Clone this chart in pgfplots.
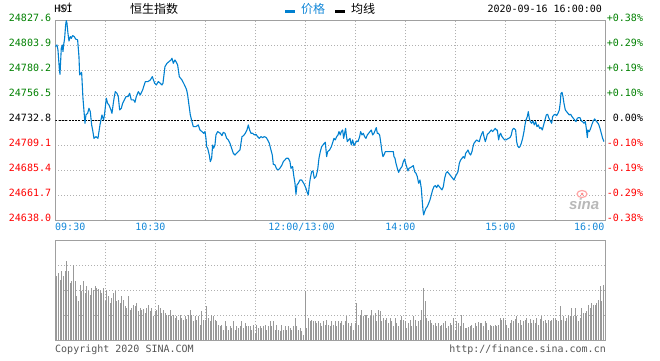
\documentclass[border=0pt]{standalone}
\usepackage{fontspec}
\setmonofont{DejaVu Sans Mono}
\setsansfont{Liberation Sans}
\newfontfamily\cjk{Noto Sans CJK SC}
\usepackage{pgfplots}
\pgfplotsset{compat=1.18}
\definecolor{lineblue}{RGB}{0,128,208}
\definecolor{labelblue}{RGB}{20,136,216}
\definecolor{upgreen}{RGB}{0,128,0}
\definecolor{downred}{RGB}{255,0,0}
\definecolor{bordergray}{RGB}{160,160,160}
\definecolor{gridgray}{RGB}{176,176,176}
\definecolor{volgray}{RGB}{153,153,153}
\definecolor{copygray}{RGB}{85,85,85}
\newcommand{\mf}{\ttfamily\fontsize{10bp}{12bp}\selectfont}
\begin{document}
\begin{tikzpicture}[x=1bp,y=1bp]
\path[use as bounding box] (0,0) rectangle (660,360);
\pgfplotsset{chartbase/.style={scale only axis, width=550bp, anchor=south west,
  xmin=0, xmax=330, xtick={0,30,...,330}, xticklabels={},
  grid=major, major grid style={draw=gridgray, line width=1bp, dash pattern=on 1bp off 2bp},
  axis line style={draw=bordergray, line width=1bp}, major tick length=0pt, tick style={draw=none}}}
% ---------- price panel ----------
\begin{axis}[chartbase, at={(55.3bp,139.7bp)}, height=200bp,
  ymin=24638.0, ymax=24827.6,
  ytick={24638.0,24661.7,24685.4,24709.1,24732.8,24756.5,24780.2,24803.9,24827.6},
  yticklabels={\textcolor{downred}{24638.0},\textcolor{downred}{24661.7},\textcolor{downred}{24685.4},\textcolor{downred}{24709.1},\textcolor{black}{24732.8},\textcolor{upgreen}{24756.5},\textcolor{upgreen}{24780.2},\textcolor{upgreen}{24803.9},\textcolor{upgreen}{24827.6}},
  yticklabel style={font=\mf, inner sep=0pt, anchor=east, xshift=-4bp, yshift=2.8bp}]
\addplot[black, line width=1bp, dash pattern=on 2bp off 1.3bp] coordinates {(0,24732.8)(330,24732.8)};
\addplot[lineblue, line width=1.1bp, line join=round] coordinates {
(0,24802.6)(1,24804.2)(1.6,24799.5)(2.4,24782.1)(2.8,24776.4)(3.6,24801.1)(4.2,24804.2)(4.6,24797.9)(5,24804.2)(5.6,24810.5)
(6.2,24823.2)(6.6,24827.3)(7,24824.8)(7.6,24815.3)(8.2,24808.0)(9,24812.1)(9.6,24810.5)(10.4,24813.1)(11.4,24812.1)(12.2,24809.9)
(13.4,24809.0)(14.2,24793.2)(14.6,24775.8)(15.8,24778.3)(16.6,24753.7)(17.4,24737.9)(17.8,24730.0)(18.4,24737.9)(19.4,24739.4)(20.2,24744.2)
(21,24741.0)(21.8,24728.4)(22.4,24723.6)(23.2,24715.7)(24.4,24717.3)(25.6,24715.7)(26.2,24722.1)(26.8,24728.4)(28,24737.9)(29,24733.1)
(29.6,24739.4)(30.6,24753.7)(31.4,24748.9)(32.2,24747.3)(33.4,24742.6)(34,24739.4)(34.8,24748.9)(35.4,24755.2)(36,24760.0)(37,24758.4)
(37.8,24755.2)(38.6,24742.6)(39.6,24744.2)(40.4,24748.9)(41.4,24752.1)(42.4,24755.2)(43.6,24755.2)(44.6,24758.4)(45.6,24752.1)(47,24752.1)
(47.8,24749.9)(48.6,24755.2)(49.8,24760.0)(51,24756.8)(52.4,24761.6)(54,24769.5)(55.6,24769.5)(57,24771.0)(58.2,24774.2)(59.6,24767.9)
(60.6,24766.3)(61.8,24769.5)(63,24767.9)(64,24766.3)(64.6,24767.9)(65.2,24775.8)(65.8,24783.7)(67,24786.8)(68.2,24788.4)(69.4,24790.0)
(70,24791.6)(70.8,24786.8)(71.8,24790.0)(72.4,24788.4)(73.4,24785.3)(74.4,24774.2)(76,24771.0)(77,24767.9)(78,24764.7)(78.8,24761.6)
(79.4,24756.8)(80.2,24747.3)(81,24737.9)(82,24731.5)(82.8,24726.8)(84.4,24726.8)(85.8,24728.4)(86.8,24723.6)(88,24722.1)(89,24720.5)
(89.8,24722.1)(90.4,24715.7)(90.8,24707.8)(91.4,24706.3)(92.4,24699.9)(93,24693.6)(93.8,24696.8)(94.4,24709.4)(95,24706.3)(95.8,24709.4)
(96.4,24718.9)(97.4,24722.1)(99,24720.5)(100,24718.3)(100.8,24721.4)(101.8,24720.5)(102.8,24715.7)(103.8,24714.2)(104.8,24711.0)(105.8,24706.3)
(106.8,24701.5)(107.8,24699.9)(108.8,24701.5)(109.8,24703.1)(110.8,24704.7)(111.4,24711.0)(112,24717.3)(113,24718.3)(114,24720.5)(115,24723.6)
(115.8,24728.4)(116.6,24723.6)(117.4,24720.5)(118.4,24720.5)(119.4,24718.9)(120.4,24719.5)(121.4,24717.3)(122.4,24715.7)(123.4,24717.3)(124.4,24716.4)
(125.4,24717.3)(126.6,24716.4)(127.4,24714.2)(128.4,24711.0)(129.4,24704.7)(130.2,24699.9)(130.8,24691.1)(131.8,24690.5)(132.8,24686.7)(133.8,24685.7)
(135,24687.9)(136,24690.5)(136.8,24693.6)(137.8,24695.2)(138.6,24696.8)(139.8,24696.8)(140.8,24693.6)(141.4,24687.3)(142.4,24688.9)(143,24681.0)
(143.8,24673.1)(144.4,24662.7)(145,24671.5)(145.8,24673.1)(146.8,24676.2)(147.8,24676.2)(148.4,24674.7)(149.4,24672.1)(150.4,24668.3)(151,24665.2)
(151.8,24662.0)(152.4,24671.5)(153,24677.8)(153.8,24684.1)(154.6,24684.8)(155.4,24677.8)(156.4,24679.4)(157.4,24685.7)(158.2,24696.8)(159,24703.1)
(159.8,24707.8)(160.6,24709.4)(161.4,24711.0)(162,24712.0)(162.8,24698.4)(163.4,24703.1)(164.6,24704.7)(165.6,24707.8)(166.6,24712.6)(167.2,24715.7)
(168,24714.2)(168.8,24717.3)(169.6,24718.9)(170.2,24722.1)(171,24718.9)(171.6,24722.1)(172.4,24723.6)(173,24715.7)(173.6,24720.5)(174.2,24725.2)
(174.6,24718.9)(175.2,24712.6)(176,24714.2)(176.8,24715.7)(177.6,24709.4)(178.4,24714.2)(179.2,24708.8)(180,24711.0)(180.8,24713.2)(181.6,24712.6)
(182.6,24717.3)(183.2,24722.1)(184,24718.9)(184.8,24720.5)(185.6,24717.3)(186.4,24715.7)(187.2,24718.9)(188,24720.5)(188.8,24722.1)(189.6,24723.6)
(190.4,24718.9)(191.2,24720.5)(192,24723.6)(192.6,24725.9)(193.2,24720.5)(193.8,24720.5)(194.6,24718.9)(195.2,24712.6)(196,24703.1)(196.6,24698.4)
(197.2,24699.9)(198,24703.1)(202.8,24703.1)(203.2,24698.4)(203.8,24696.8)(204.4,24692.0)(205.2,24687.3)(206,24683.5)(206.6,24685.7)(207.2,24687.3)
(208,24688.9)(208.8,24693.6)(209.6,24696.1)(210.2,24692.0)(210.8,24688.9)(211.6,24684.8)(212.2,24687.3)(213,24687.9)(214,24688.9)(214.8,24689.8)
(215.6,24684.1)(216.4,24682.6)(217.2,24679.4)(218,24673.1)(218.8,24676.2)(219.6,24668.3)(220.2,24655.7)(220.6,24647.8)(221,24643.1)(221.6,24646.2)
(222.4,24649.4)(223.2,24651.0)(224,24654.1)(224.8,24657.3)(225.6,24662.0)(226.4,24666.8)(227.2,24669.9)(228,24670.9)(228.8,24669.0)(229.6,24671.5)
(230.4,24669.9)(231.2,24668.3)(232,24666.8)(232.8,24669.9)(233.6,24677.8)(234.4,24682.6)(235.2,24684.1)(236,24682.6)(236.8,24681.0)(237.6,24679.4)
(238.4,24677.8)(239.2,24676.2)(240,24679.4)(240.8,24681.6)(241.6,24684.1)(242.4,24692.0)(243.2,24695.2)(244,24696.8)(244.8,24698.4)(245.6,24696.8)
(246.2,24701.5)(247,24703.1)(247.6,24704.7)(248.4,24701.5)(249.2,24699.9)(250,24703.1)(250.6,24707.8)(251.2,24711.0)(252,24712.6)(252.8,24714.2)
(253.6,24713.2)(254.4,24712.6)(255.2,24717.3)(256,24720.5)(256.6,24722.1)(257.2,24717.3)(258,24712.6)(258.6,24715.7)(259.2,24719.5)(260,24720.5)
(260.8,24722.1)(261.6,24723.6)(262.4,24722.1)(263.2,24723.6)(264,24725.2)(264.6,24723.6)(265.2,24723.6)(266,24714.2)(266.6,24718.9)(267.2,24720.5)
(268,24717.3)(268.8,24715.7)(269.6,24714.2)(270.4,24714.2)(271.2,24715.1)(272,24715.7)(272.8,24716.4)(273.6,24718.9)(274.2,24723.6)(275,24725.2)
(275.6,24724.6)(276.2,24723.6)(276.8,24712.6)(277.4,24708.5)(278.2,24706.9)(278.8,24707.8)(279.6,24711.0)(280.4,24715.7)(281.2,24722.1)(281.8,24728.4)
(282.4,24733.1)(283.2,24736.3)(283.8,24741.0)(284.4,24734.7)(285,24731.5)(285.8,24730.0)(286.6,24732.2)(287.4,24728.4)(288.2,24731.5)(289,24726.8)
(289.8,24728.4)(290.6,24725.2)(291.4,24725.9)(292.2,24723.6)(293,24728.4)(293.8,24733.1)(294.6,24737.9)(295.4,24738.5)(296.2,24734.7)(297,24732.2)
(297.8,24730.0)(298.4,24736.3)(299.2,24737.9)(300,24738.5)(300.8,24737.2)(301.6,24739.4)(302.4,24742.6)(303,24749.9)(303.4,24758.4)(304,24759.3)
(304.6,24755.2)(305.2,24748.9)(306,24742.6)(306.8,24741.0)(307.6,24739.4)(308.4,24737.9)(309.2,24738.5)(310,24736.3)(310.8,24734.7)(311.6,24733.1)
(312.4,24731.5)(313.2,24734.7)(314,24735.3)(314.8,24735.3)(315.6,24732.2)(316.4,24731.5)(317.2,24730.0)(318,24731.5)(318.6,24725.2)(319.2,24716.4)
(319.6,24723.6)(320.4,24722.1)(321.2,24725.2)(322,24729.0)(322.8,24732.2)(323.6,24734.1)(324.4,24732.2)(325.2,24730.9)(326,24729.0)(326.8,24725.2)
(327.6,24720.5)(328.4,24715.7)(329.2,24712.6)};
\end{axis}
% ---------- volume panel ----------
\begin{axis}[chartbase, at={(55.3bp,19.7bp)}, height=100bp, ymin=0, ymax=100,
  ytick={0,25,50,75,100}, yticklabels={}]
\addplot[ycomb, volgray, line width=1bp] coordinates {
(0,62)(1,64)(2,67)(3,60)(4,69)(5,64)(6,69)(7,79)(8,69)(9,57)
(10,59)(11,75)(12,59)(13,44)(14,39)(15,55)(16,49)(17,59)(18,47)(19,54)
(20,49)(21,45)(22,52)(23,50)(24,54)(25,52)(26,51)(27,50)(28,47)(29,52)
(30,39)(31,50)(32,44)(33,37)(34,42)(35,47)(36,49)(37,39)(38,40)(39,37)
(40,44)(41,40)(42,34)(43,32)(44,44)(45,30)(46,32)(47,35)(48,34)(49,37)
(50,29)(51,32)(52,30)(53,31)(54,27)(55,32)(56,35)(57,29)(58,32)(59,24)
(60,29)(61,30)(62,35)(63,32)(64,27)(65,30)(66,27)(67,25)(68,25)(69,30)
(70,24)(71,25)(72,22)(73,24)(74,20)(75,25)(76,22)(77,20)(78,24)(79,21)
(80,25)(81,30)(82,25)(83,19)(84,24)(85,20)(86,24)(87,15)(88,29)(89,20)
(90,20)(91,34)(92,22)(93,19)(94,25)(95,24)(96,20)(97,19)(98,15)(99,14)
(100,15)(101,10)(102,19)(103,14)(104,10)(105,14)(106,12)(107,19)(108,10)(109,14)
(110,12)(111,14)(112,19)(113,12)(114,17)(115,14)(116,14)(117,14)(118,10)(119,15)
(120,7)(121,15)(122,12)(123,14)(124,12)(125,14)(126,15)(127,10)(128,14)(129,19)
(130,14)(131,19)(132,10)(133,15)(134,10)(135,9)(136,15)(137,10)(138,14)(139,10)
(140,14)(141,12)(142,10)(143,14)(144,22)(145,14)(146,10)(147,12)(148,9)(149,5)
(150,49)(151,12)(152,22)(153,19)(154,20)(155,19)(156,19)(157,17)(158,19)(159,17)
(160,14)(161,19)(162,15)(163,20)(164,15)(165,14)(166,19)(167,15)(168,19)(169,14)
(170,19)(171,17)(172,19)(173,15)(174,19)(175,24)(176,17)(177,14)(178,17)(179,10)
(180,17)(181,37)(182,15)(183,25)(184,30)(185,24)(186,25)(187,25)(188,22)(189,24)
(190,30)(191,24)(192,27)(193,19)(194,30)(195,29)(196,19)(197,22)(198,20)(199,22)
(200,17)(201,22)(202,19)(203,14)(204,22)(205,17)(206,14)(207,20)(208,24)(209,20)
(210,19)(211,12)(212,17)(213,20)(214,14)(215,24)(216,20)(217,14)(218,19)(219,20)
(220,30)(221,52)(222,39)(223,22)(224,19)(225,20)(226,17)(227,15)(228,17)(229,14)
(230,17)(231,14)(232,15)(233,17)(234,19)(235,12)(236,14)(237,17)(238,15)(239,22)
(240,10)(241,19)(242,17)(243,14)(244,25)(245,17)(246,12)(247,12)(248,13)(249,14)
(250,15)(251,12)(252,17)(253,14)(254,18)(255,17)(256,17)(257,14)(258,19)(259,17)
(260,10)(261,15)(262,14)(263,14)(264,15)(265,14)(266,15)(267,22)(268,20)(269,22)
(270,20)(271,15)(272,12)(273,17)(274,20)(275,19)(276,21)(277,24)(278,17)(279,20)
(280,15)(281,19)(282,20)(283,22)(284,17)(285,21)(286,17)(287,20)(288,17)(289,22)
(290,15)(291,21)(292,24)(293,19)(294,20)(295,17)(296,20)(297,19)(298,20)(299,22)
(300,22)(301,20)(302,19)(303,34)(304,20)(305,24)(306,19)(307,22)(308,25)(309,24)
(310,32)(311,24)(312,32)(313,24)(314,19)(315,22)(316,32)(317,27)(318,27)(319,29)
(320,35)(321,32)(322,37)(323,35)(324,35)(325,37)(326,40)(327,54)(328,39)(329,55)
(330,53)};
\end{axis}
% ---------- right-hand percentage labels ----------
\foreach \lab/\col/\k in {+0.38\%/upgreen/0,+0.29\%/upgreen/1,+0.19\%/upgreen/2,+0.10\%/upgreen/3,\phantom{+}0.00\%/black/4,-0.10\%/downred/5,-0.19\%/downred/6,-0.29\%/downred/7,-0.38\%/downred/8}{
  \node[anchor=base west, inner sep=0pt, font=\mf, text=\col] at (606.7, {360-20.3-25*\k-0.85}) {\lab};
}
% ---------- time labels ----------
\begin{scope}[every node/.style={inner sep=0pt, font=\mf, text=labelblue}]
\node[anchor=base west] at (55,129.4) {09:30};
\node[anchor=base] at (150.3,129.4) {10:30};
\node[anchor=base] at (301.5,129.4) {12:00/13:00};
\node[anchor=base] at (400.3,129.4) {14:00};
\node[anchor=base] at (500.3,129.4) {15:00};
\node[anchor=base east] at (604.5,129.4) {16:00};
\end{scope}
% ---------- header ----------
\node[anchor=base west, inner sep=0pt, font=\mf] at (54.3,347.4) {HSI};
\node[anchor=base west, inner sep=0pt, font=\cjk\fontsize{12bp}{14bp}\selectfont] at (130,346.4) {恒生指数};
\draw[lineblue, line width=2.7bp] (285,348.7) -- (295,348.7);
\node[anchor=base west, inner sep=0pt, font=\cjk\fontsize{12bp}{14bp}\selectfont, text=labelblue] at (301,346.4) {价格};
\draw[black, line width=2.7bp] (335,348.7) -- (345,348.7);
\node[anchor=base west, inner sep=0pt, font=\cjk\fontsize{12bp}{14bp}\selectfont] at (351,346.4) {均线};
\node[anchor=base west, inner sep=0pt, font=\mf] at (487.3,347.4) {2020-09-16 16:00:00};
% ---------- footer ----------
\node[anchor=base west, inner sep=0pt, font=\mf, text=copygray] at (55,7.3) {Copyright 2020 SINA.COM};
\node[anchor=base east, inner sep=0pt, font=\mf, text=copygray] at (606,7.3) {http://finance.sina.com.cn};
% ---------- sina watermark ----------
\draw[red!35, line width=1.2bp] (582,166) ellipse (5 and 3.5);
\fill[red!45] (582,166) circle (1.5);
\node[anchor=base west, inner sep=0pt, text=gray!55, font=\sffamily\bfseries\itshape\fontsize{15bp}{15bp}\selectfont] at (569,151) {sina};
\end{tikzpicture}
\end{document}
